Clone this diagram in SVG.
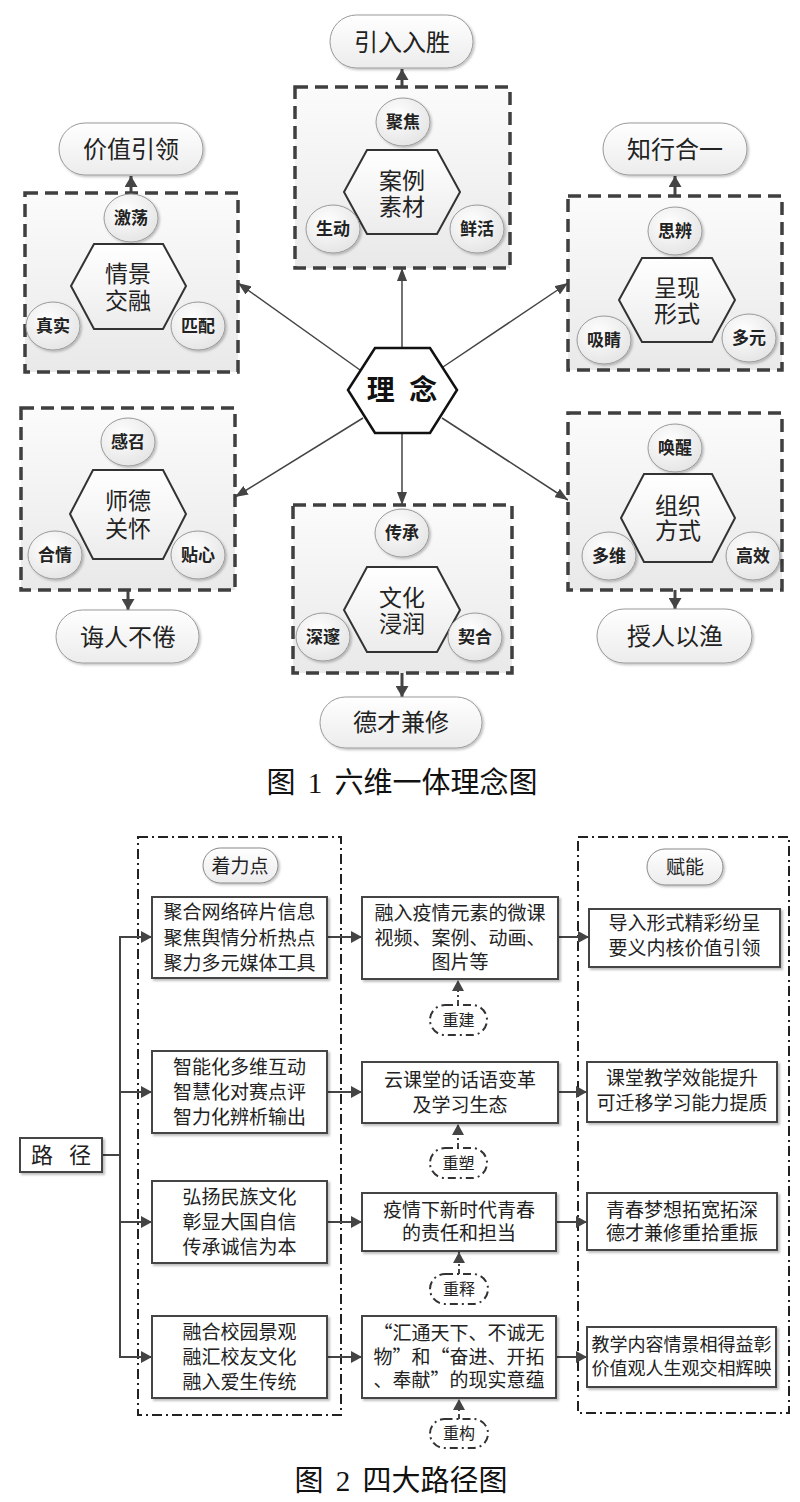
<svg xmlns="http://www.w3.org/2000/svg" width="800" height="1502" viewBox="0 0 800 1502">
<defs>
<linearGradient id="boxg" x1="0" y1="0" x2="0" y2="1"><stop offset="0" stop-color="#fbfbfb"/><stop offset="1" stop-color="#e9e9e9"/></linearGradient>
<linearGradient id="hexg" x1="0" y1="0" x2="0" y2="1"><stop offset="0" stop-color="#ffffff"/><stop offset="1" stop-color="#ececec"/></linearGradient>
<radialGradient id="circg" cx="0.4" cy="0.35" r="0.75"><stop offset="0" stop-color="#ffffff"/><stop offset="1" stop-color="#e2e2e2"/></radialGradient>
<linearGradient id="ovalg" x1="0" y1="0" x2="0" y2="1"><stop offset="0" stop-color="#ffffff"/><stop offset="1" stop-color="#ececec"/></linearGradient>
<filter id="sh" x="-20%" y="-20%" width="150%" height="150%"><feDropShadow dx="1.5" dy="1.5" stdDeviation="1.2" flood-color="#000" flood-opacity="0.25"/></filter>
<filter id="sh2" x="-10%" y="-10%" width="130%" height="130%"><feDropShadow dx="2" dy="2" stdDeviation="1.2" flood-color="#000" flood-opacity="0.25"/></filter>
<marker id="ah" markerUnits="userSpaceOnUse" markerWidth="13" markerHeight="10" refX="13" refY="5" orient="auto"><path d="M0,0 L13,5 L0,10 z" fill="#444"/></marker>
<marker id="ahb" markerUnits="userSpaceOnUse" markerWidth="11" markerHeight="13" refX="11" refY="6.5" orient="auto"><path d="M0,0 L11,6.5 L0,13 z" fill="#444"/></marker>
<marker id="ah2" markerUnits="userSpaceOnUse" markerWidth="11" markerHeight="12" refX="11" refY="6" orient="auto"><path d="M0,0 L11,6 L0,12 z" fill="#444"/></marker>
</defs>
<style>
.dbox{fill:url(#boxg);stroke:#3f3f3f;stroke-width:3.5;stroke-dasharray:13 7;}
.hex{fill:url(#hexg);stroke:#333;stroke-width:2;}
.circ{fill:url(#circg);stroke:#9a9a9a;stroke-width:1;filter:url(#sh);}
.oval{fill:url(#ovalg);stroke:#9a9a9a;stroke-width:1;filter:url(#sh);}
.t{font-family:"Noto Sans CJK SC","Noto Sans",sans-serif;fill:#222;text-anchor:middle;}
.ol{font-size:24px;}
.hx{font-size:23px;}
.ct{font-size:17px;font-weight:bold;}
.link{stroke:#444;stroke-width:1.5;fill:none;marker-end:url(#ah);}
.thick{stroke:#444;stroke-width:3;fill:none;marker-end:url(#ahb);}
.ddbox{fill:none;stroke:#222;stroke-width:2;stroke-dasharray:10 4 2 4;}
.rbox{fill:#fff;stroke:#444;stroke-width:2;filter:url(#sh2);}
.pill{fill:url(#ovalg);stroke:#888;stroke-width:1;filter:url(#sh);}
.ddpill{fill:#fff;stroke:#333;stroke-width:2;stroke-dasharray:8 4 2 4;}
.conn{stroke:#444;stroke-width:2;fill:none;marker-end:url(#ah2);}
.ddconn{stroke:#444;stroke-width:2;fill:none;stroke-dasharray:5 3 2 3;marker-end:url(#ah2);}
.bt{font-family:"Noto Sans CJK SC","Noto Sans",sans-serif;fill:#222;text-anchor:middle;font-size:19px;}
.cap{font-family:"Liberation Serif","Noto Sans CJK SC",serif;fill:#111;text-anchor:middle;font-size:29px;word-spacing:5px;}
</style>

<!-- ===== Figure 1 ===== -->
<g id="connectors1">
<line class="link" x1="402" y1="348" x2="402" y2="268"/>
<line class="link" x1="360" y1="370" x2="238" y2="283"/>
<line class="link" x1="443" y1="367" x2="568" y2="283"/>
<line class="link" x1="363" y1="418" x2="235" y2="497"/>
<line class="link" x1="442" y1="418" x2="568" y2="500"/>
<line class="link" x1="402" y1="433" x2="402" y2="505"/>
<line class="thick" x1="131" y1="193" x2="131" y2="176"/>
<line class="thick" x1="402" y1="87" x2="402" y2="69"/>
<line class="thick" x1="675" y1="196" x2="675" y2="176"/>
<line class="thick" x1="128" y1="590" x2="128" y2="610"/>
<line class="thick" x1="402" y1="673" x2="402" y2="697"/>
<line class="thick" x1="675" y1="590" x2="675" y2="609"/>
</g>

<g id="center">
<polygon class="hex" points="348,390 375,348 430,348 457,390 430,433 375,433" style="fill:#fff;stroke-width:2.5;stroke:#111"/>
<text class="t" x="402" y="400" xml:space="preserve" style="font-size:28px;font-weight:bold;word-spacing:8px;fill:#111">理 念</text>
</g>

<g id="n-qingjing">
<rect class="dbox" x="25" y="193" width="213" height="179"/>
<rect class="oval" x="59" y="123" width="144" height="52" rx="26"/>
<text class="t ol" x="131" y="158">价值引领</text>
<polygon class="hex" points="71,286 94,244 163,244 186,286 163,329 94,329"/>
<text class="t hx" x="128" y="282">情景<tspan x="128" dy="27">交融</tspan></text>
<ellipse class="circ" cx="131" cy="218" rx="27" ry="24"/>
<text class="t ct" x="131" y="224">激荡</text>
<ellipse class="circ" cx="53" cy="326" rx="27" ry="24"/>
<text class="t ct" x="53" y="332">真实</text>
<ellipse class="circ" cx="198" cy="326" rx="27" ry="24"/>
<text class="t ct" x="198" y="332">匹配</text>
</g>

<g id="n-anli">
<rect class="dbox" x="295" y="87" width="215" height="181"/>
<rect class="oval" x="330" y="15" width="143" height="53" rx="26.5"/>
<text class="t ol" x="402" y="51">引入入胜</text>
<polygon class="hex" points="344,192 367,150 437,150 460,192 437,234 367,234"/>
<text class="t hx" x="402" y="189">案例<tspan x="402" dy="26">素材</tspan></text>
<ellipse class="circ" cx="403" cy="122" rx="27" ry="24"/>
<text class="t ct" x="403" y="128">聚焦</text>
<ellipse class="circ" cx="333" cy="229" rx="27" ry="24"/>
<text class="t ct" x="333" y="235">生动</text>
<ellipse class="circ" cx="477" cy="229" rx="27" ry="24"/>
<text class="t ct" x="477" y="235">鲜活</text>
</g>

<g id="n-chengxian">
<rect class="dbox" x="568" y="196" width="214" height="174"/>
<rect class="oval" x="603" y="123" width="144" height="52" rx="26"/>
<text class="t ol" x="675" y="158">知行合一</text>
<polygon class="hex" points="619,300 642,258 712,258 735,300 712,342 642,342"/>
<text class="t hx" x="677" y="296">呈现<tspan x="677" dy="26">形式</tspan></text>
<ellipse class="circ" cx="675" cy="231" rx="27" ry="24"/>
<text class="t ct" x="675" y="237">思辨</text>
<ellipse class="circ" cx="604" cy="340" rx="27" ry="24"/>
<text class="t ct" x="604" y="346">吸睛</text>
<ellipse class="circ" cx="749" cy="338" rx="27" ry="24"/>
<text class="t ct" x="749" y="344">多元</text>
</g>

<g id="n-shide">
<rect class="dbox" x="21" y="408" width="214" height="182"/>
<rect class="oval" x="56" y="610" width="143" height="53" rx="26.5"/>
<text class="t ol" x="128" y="646">诲人不倦</text>
<polygon class="hex" points="70,514 93,470 163,470 186,514 163,559 93,559"/>
<text class="t hx" x="128" y="509">师德<tspan x="128" dy="28">关怀</tspan></text>
<ellipse class="circ" cx="128" cy="442" rx="27" ry="24"/>
<text class="t ct" x="128" y="448">感召</text>
<ellipse class="circ" cx="55" cy="555" rx="27" ry="24"/>
<text class="t ct" x="55" y="561">合情</text>
<ellipse class="circ" cx="198" cy="555" rx="27" ry="24"/>
<text class="t ct" x="198" y="561">贴心</text>
</g>

<g id="n-wenhua">
<rect class="dbox" x="293" y="505" width="219" height="168"/>
<rect class="oval" x="320" y="697" width="162" height="51" rx="25.5"/>
<text class="t ol" x="401" y="731">德才兼修</text>
<polygon class="hex" points="344,610 367,567 437,567 460,610 437,652 367,652"/>
<text class="t hx" x="402" y="606">文化<tspan x="402" dy="26">浸润</tspan></text>
<ellipse class="circ" cx="402" cy="533" rx="27" ry="24"/>
<text class="t ct" x="402" y="539">传承</text>
<ellipse class="circ" cx="323" cy="637" rx="27" ry="24"/>
<text class="t ct" x="323" y="643">深邃</text>
<ellipse class="circ" cx="475" cy="637" rx="27" ry="24"/>
<text class="t ct" x="475" y="643">契合</text>
</g>

<g id="n-zuzhi">
<rect class="dbox" x="568" y="413" width="214" height="177"/>
<rect class="oval" x="597" y="609" width="155" height="54" rx="27"/>
<text class="t ol" x="675" y="645">授人以渔</text>
<polygon class="hex" points="621,518 644,474 712,474 735,518 712,562 644,562"/>
<text class="t hx" x="678" y="514">组织<tspan x="678" dy="25">方式</tspan></text>
<ellipse class="circ" cx="675" cy="448" rx="27" ry="24"/>
<text class="t ct" x="675" y="454">唤醒</text>
<ellipse class="circ" cx="609" cy="556" rx="27" ry="24"/>
<text class="t ct" x="609" y="562">多维</text>
<ellipse class="circ" cx="753" cy="556" rx="27" ry="24"/>
<text class="t ct" x="753" y="562">高效</text>
</g>

<text id="caption1" class="cap" x="402" y="793" xml:space="preserve">图 1 六维一体理念图</text>

<!-- ===== Figure 2 ===== -->
<g id="columns">
<rect class="ddbox" x="138" y="837" width="203" height="578"/>
<rect class="ddbox" x="578" y="837" width="211" height="576"/>
</g>

<g id="connectors2">
<polyline points="102,1155 120,1155" fill="none" stroke="#444" stroke-width="2"/>
<line x1="120" y1="937" x2="120" y2="1357" stroke="#444" stroke-width="2"/>
<line class="conn" x1="119" y1="937" x2="152" y2="937"/>
<line class="conn" x1="119" y1="1092" x2="152" y2="1092"/>
<line class="conn" x1="119" y1="1222" x2="152" y2="1222"/>
<line class="conn" x1="119" y1="1357" x2="152" y2="1357"/>
<line class="conn" x1="327" y1="937" x2="362" y2="937"/>
<line class="conn" x1="327" y1="1092" x2="362" y2="1092"/>
<line class="conn" x1="327" y1="1222" x2="362" y2="1222"/>
<line class="conn" x1="327" y1="1357" x2="362" y2="1357"/>
<line class="conn" x1="558" y1="937" x2="589" y2="937"/>
<line class="conn" x1="558" y1="1092" x2="587" y2="1092"/>
<line class="conn" x1="556" y1="1222" x2="587" y2="1222"/>
<line class="conn" x1="556" y1="1357" x2="587" y2="1357"/>
<line class="ddconn" x1="458" y1="1005" x2="458" y2="980"/>
<line class="ddconn" x1="458" y1="1148" x2="458" y2="1124"/>
<line class="ddconn" x1="459" y1="1274" x2="459" y2="1252"/>
<line class="ddconn" x1="459" y1="1419" x2="459" y2="1399"/>
</g>

<g id="lujing">
<rect class="rbox" x="20" y="1138" width="82" height="34"/>
<text class="bt" x="61" y="1163" xml:space="preserve" style="font-size:22px;word-spacing:11px">路 径</text>
</g>

<g id="zhuolidian">
<rect class="pill" x="203" y="848" width="75" height="35" rx="17.5"/>
<text class="bt" x="240" y="873">着力点</text>
</g>
<g id="funeng">
<rect class="pill" x="647" y="849" width="76" height="36" rx="18"/>
<text class="bt" x="685" y="874">赋能</text>
</g>

<g id="l1">
<rect class="rbox" x="152" y="897" width="175" height="81"/>
<text class="bt" x="239.5" y="919">聚合网络碎片信息<tspan x="239.5" dy="26">聚焦舆情分析热点</tspan><tspan x="239.5" dy="25">聚力多元媒体工具</tspan></text>
</g>
<g id="l2">
<rect class="rbox" x="152" y="1051" width="175" height="82"/>
<text class="bt" x="239.5" y="1074">智能化多维互动<tspan x="239.5" dy="25">智慧化对赛点评</tspan><tspan x="239.5" dy="25">智力化辨析输出</tspan></text>
</g>
<g id="l3">
<rect class="rbox" x="152" y="1181" width="175" height="82"/>
<text class="bt" x="239.5" y="1204">弘扬民族文化<tspan x="239.5" dy="25">彰显大国自信</tspan><tspan x="239.5" dy="25">传承诚信为本</tspan></text>
</g>
<g id="l4">
<rect class="rbox" x="152" y="1316" width="175" height="82"/>
<text class="bt" x="239.5" y="1339">融合校园景观<tspan x="239.5" dy="25">融汇校友文化</tspan><tspan x="239.5" dy="25">融入爱生传统</tspan></text>
</g>

<g id="m1">
<rect class="rbox" x="362" y="897" width="196" height="82"/>
<text class="bt" x="460" y="920">融入疫情元素的微课<tspan x="460" dy="25">视频、案例、动画、</tspan><tspan x="460" dy="24">图片等</tspan></text>
</g>
<g id="m2">
<rect class="rbox" x="362" y="1062" width="196" height="61"/>
<text class="bt" x="460" y="1087">云课堂的话语变革<tspan x="460" dy="25">及学习生态</tspan></text>
</g>
<g id="m3">
<rect class="rbox" x="362" y="1193" width="194" height="58"/>
<text class="bt" x="459" y="1217">疫情下新时代青春<tspan x="459" dy="23">的责任和担当</tspan></text>
</g>
<g id="m4">
<rect class="rbox" x="362" y="1316" width="194" height="82"/>
<text class="bt" x="459" y="1340">“汇通天下、不诚无<tspan x="459" dy="24">物”和“奋进、开拓</tspan><tspan x="459" dy="23">、奉献”的现实意蕴</tspan></text>
</g>

<g id="chongjian">
<rect class="ddpill" x="430" y="1005" width="57" height="30" rx="15"/>
<text class="bt" x="458.5" y="1026" style="font-size:16px">重建</text>
</g>
<g id="chongsu">
<rect class="ddpill" x="430" y="1148" width="57" height="30" rx="15"/>
<text class="bt" x="458.5" y="1169" style="font-size:16px">重塑</text>
</g>
<g id="chongshi">
<rect class="ddpill" x="430" y="1274" width="58" height="30" rx="15"/>
<text class="bt" x="459" y="1295" style="font-size:16px">重释</text>
</g>
<g id="chonggou">
<rect class="ddpill" x="430" y="1419" width="58" height="29" rx="14.5"/>
<text class="bt" x="459" y="1439" style="font-size:16px">重构</text>
</g>

<g id="r1">
<rect class="rbox" x="589" y="909" width="191" height="58"/>
<text class="bt" x="684.5" y="930">导入形式精彩纷呈<tspan x="684.5" dy="25">要义内核价值引领</tspan></text>
</g>
<g id="r2">
<rect class="rbox" x="587" y="1062" width="190" height="60"/>
<text class="bt" x="682" y="1085">课堂教学效能提升<tspan x="682" dy="25">可迁移学习能力提质</tspan></text>
</g>
<g id="r3">
<rect class="rbox" x="587" y="1193" width="190" height="57"/>
<text class="bt" x="682" y="1217">青春梦想拓宽拓深<tspan x="682" dy="23">德才兼修重拾重振</tspan></text>
</g>
<g id="r4">
<rect class="rbox" x="587" y="1327" width="189" height="60"/>
<text class="bt" x="681.5" y="1351" style="font-size:18px">教学内容情景相得益彰<tspan x="681.5" dy="24">价值观人生观交相辉映</tspan></text>
</g>

<text id="caption2" class="cap" x="401" y="1491" xml:space="preserve">图 2 四大路径图</text>
</svg>
